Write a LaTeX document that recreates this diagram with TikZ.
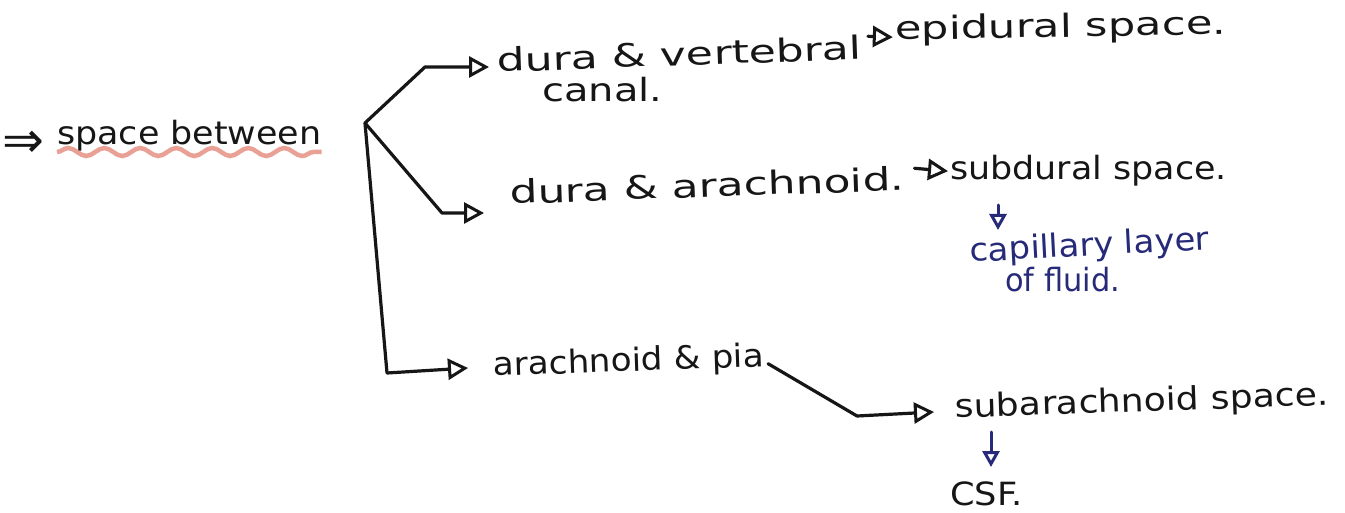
\documentclass[tikz,border=0pt]{standalone}
\usepackage{fontspec}
\setmainfont{DejaVu Sans}
\usetikzlibrary{arrows.meta,decorations.pathmorphing}
\definecolor{inkblack}{HTML}{161616}
\definecolor{inkblue}{HTML}{262A78}
\definecolor{inkred}{HTML}{E07868}
\newcommand\hsz[1]{\fontsize{#1}{#1}\selectfont}
\newcommand\hx[2]{\scalebox{#1}[1]{#2}}
\begin{document}
\begin{tikzpicture}[x=1pt,y=-1pt,
  ink/.style={line width=3.2pt,draw=inkblack,line cap=round,line join=round},
  bink/.style={line width=3pt,draw=inkblue,line cap=round},
  tip/.style={-{Triangle[open,length=20pt,width=21pt,line width=3pt]}},
  btip/.style={-{Triangle[open,length=16pt,width=17pt,line width=3pt]}},
  txt/.style={anchor=base west,inner sep=0pt,text=inkblack,font=\hsz{32}},
  btxt/.style={txt,text=inkblue}]
\fill[white] (0,0) rectangle (1345,513);
\useasboundingbox (0,0) rectangle (1345,513);

% text
\node[txt,font=\hsz{50}] (imp) at (2,158) {\hx{1.0}{⇒}};
\node[txt] (sb) at (57,145) {\hx{1.09}{space between}};
\node[txt,rotate=2] (dv) at (497,72) {\hx{1.38}{dura \& vertebral}};
\node[txt] (cn) at (542,102) {\hx{1.25}{canal.}};
\node[txt,rotate=1] (ep) at (895,40) {\hx{1.35}{epidural space.}};
\node[txt,rotate=2] (da) at (510,204) {\hx{1.37}{dura \& arachnoid.}};
\node[txt] (sd) at (950,180) {\hx{1.09}{subdural space.}};
\node[btxt,rotate=3] (cl) at (970,262) {\hx{1.06}{capillary layer}};
\node[btxt] (of) at (1005,292) {\hx{0.95}{of fluid.}};
\node[txt,rotate=2] (ap) at (493,376) {\hx{1.07}{arachnoid \& pia}};
\node[txt,rotate=2] (sa) at (955,418) {\hx{1.13}{subarachnoid space.}};
\node[txt] (csf) at (950,505) {\hx{1.1}{CSF.}};

% wavy underline
\draw[decorate,decoration={snake,segment length=36pt,amplitude=4pt},
  line width=4.5pt,draw=inkred,opacity=.7]
  ([yshift=-7pt]sb.base west) -- ([yshift=-7pt]sb.base east);

% branch points
\coordinate (hub) at (365,123);
\coordinate (c1) at (425,67);
\coordinate (c2) at (442,213);
\coordinate (c3) at (387,373);
\coordinate (c4) at (857,416);
\coordinate (e1) at (489,67);
\coordinate (e2) at (484,213);
\coordinate (e3) at (468,368);
\coordinate (e4) at (934,412);

\draw[ink,tip] (hub) -- (c1) -- (e1);
\draw[ink,tip] (hub) -- (c2) -- (e2);
\draw[ink,tip] (hub) -- (c3) -- (e3);
\draw[ink] ([xshift=4pt,yshift=-6pt]ap.east) -- (c4);
\draw[ink,tip] (c4) -- (e4);

\draw[ink,tip] ([xshift=6pt,yshift=11pt]dv.east) -- ([xshift=-2pt,yshift=-6pt]ep.west);
\draw[ink,tip] ([xshift=10pt,yshift=10pt]da.east) -- ([xshift=-2pt]sd.west);

\draw[bink,btip] ([xshift=48pt,yshift=-25pt]sd.base west) -- ([xshift=48pt,yshift=-50pt]sd.base west);
\draw[bink,btip] ([xshift=36pt,yshift=-14pt]sa.base west) -- ([xshift=36pt,yshift=-49pt]sa.base west);
\end{tikzpicture}
\end{document}
